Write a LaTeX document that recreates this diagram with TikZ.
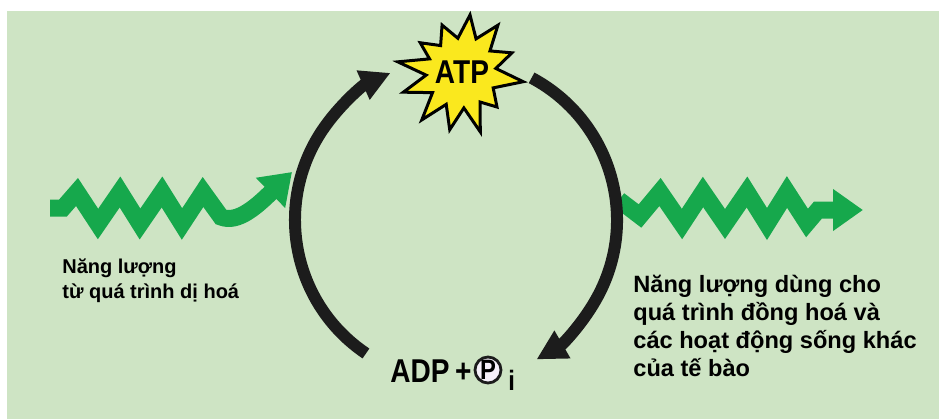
\documentclass[tikz,border=0pt]{standalone}
\usepackage{fontspec}
\setmainfont{Liberation Sans}
\newfontfamily\narrowsans[FakeStretch=0.85]{Liberation Sans}
\usetikzlibrary{arrows.meta,positioning}

\definecolor{bggreen}{RGB}{206,228,196}
\definecolor{bandgreen}{RGB}{22,168,76}
\definecolor{cycdark}{RGB}{28,28,28}
\definecolor{staryellow}{RGB}{250,232,30}
\definecolor{pwhite}{RGB}{246,240,250}

\begin{document}
\begin{tikzpicture}[x=0.5pt,y=0.5pt,
        band/.style={bandgreen, line width=8.5pt, line join=miter, -{Triangle[length=15pt,width=20pt]}},
        cycarrow/.style={cycdark, line width=6pt, -{Triangle[length=15pt,width=15pt]}},
        atpstar/.style={fill=staryellow, draw=black, line width=1.5pt, line join=miter},
        energytext/.style={anchor=north west, inner sep=0pt, align=left, font=\bfseries}]
        \useasboundingbox (0,0) rectangle (939,419);

        % Background
        \fill[bggreen] (7,0) rectangle (939,408);

        % Energy in and out
        \draw[band] (50,211) -- (63,211) -- (77,227) -- (98,195) -- (120,227) -- (140,195)
            -- (162,227) -- (182,195) -- (203,227) -- (221,202)
            .. controls (238,195) and (258,214) .. (292,247);
        \draw[band] (619,219) -- (640,203) -- (660,227) -- (682,195) -- (703,227) -- (725,195)
            -- (747,227) -- (767,195) -- (787,227) -- (807,196) -- (818,209) -- (863,209);

        % Cycle
        \coordinate (cyc) at (456,199);
        \draw[cycarrow] (cyc) ++(236:161) arc[start angle=236, end angle=114, radius=161];
        \draw[cycarrow] (cyc) ++(62:161) arc[start angle=62, end angle=-60, radius=161];

        % ATP burst
        \coordinate (atpc) at (462,347);
        \draw[atpstar] (atpc) +(97:34)
            \foreach \a/\r in {82/57.6, 67/36, 52.5/59, 37/35, 21/53.5, 6/34, -9/62, -27/35,
                -45/49.5, -59/35, -73/62.6, -87/36, -102/59, -116/36, -130/62.5, -145/36,
                -161/62, -175/36, 171/65, 158/35, 145/51, 129/34, 113/51}
            {
                -- +(\a:\r)
            } -- cycle;
        \node[font=\narrowsans\bfseries\fontsize{16.5}{19}\selectfont] (atp) at (atpc) {ATP};

        % ADP + Pi
        \node[anchor=base west, inner sep=0pt, font=\narrowsans\bfseries\fontsize{16.5}{20}\selectfont] (adp) at (390,37) {ADP\,+};
        \node[circle, draw=cycdark, line width=1.4pt, fill=pwhite, inner sep=0pt, minimum size=13pt,
            font=\narrowsans\bfseries\fontsize{14}{16}\selectfont] (pcirc) at (488,49) {P};
        \node[anchor=base west, inner sep=0pt, font=\narrowsans\bfseries\fontsize{14}{16}\selectfont] (psub) at (508,29) {i};

        % Labels
        \node[energytext, font=\bfseries\fontsize{10}{12.5}\selectfont] (intext) at (62,161)
            {Năng lượng\\từ quá trình dị hoá};
        \node[energytext, font=\bfseries\fontsize{11.8}{14}\selectfont] (outtext) at (633,144)
            {Năng lượng dùng cho\\quá trình đồng hoá và\\các hoạt động sống khác\\của tế bào};

    \end{tikzpicture}
\end{document}
